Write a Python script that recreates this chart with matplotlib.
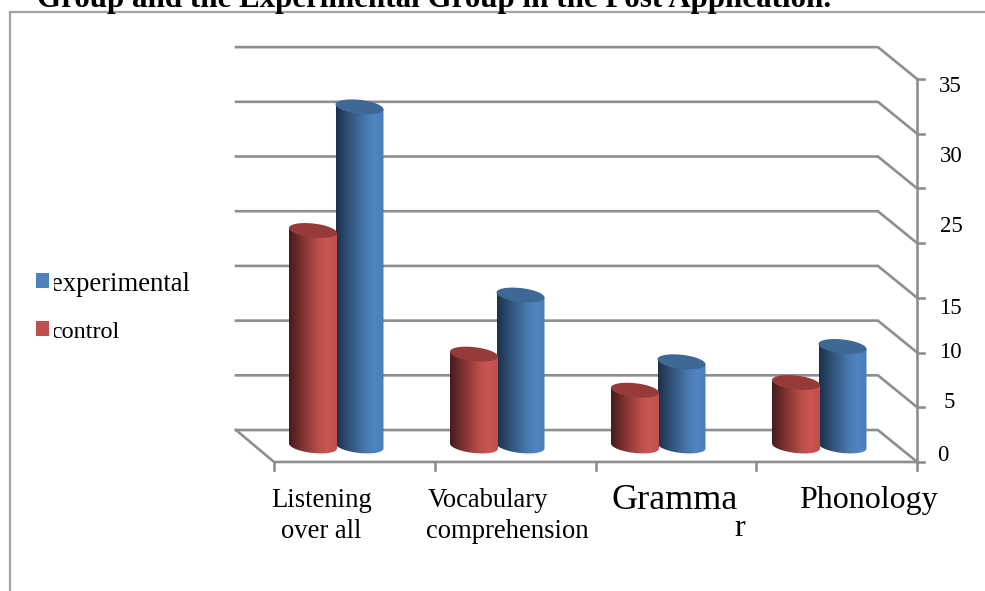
import numpy as np
import matplotlib
matplotlib.use("Agg")
import matplotlib.pyplot as plt
from matplotlib.patches import Polygon, Rectangle
from matplotlib.transforms import Affine2D
from matplotlib.colors import LinearSegmentedColormap

W, H = 985, 591
title = "Group and the Experimental Group in the Post Application."
categories = ["Listening\nover all", "Vocabulary\ncomprehension", "Gramma\nr", "Phonology"]
control = [19.7, 8.4, 5.1, 5.8]
experimental = [31.0, 13.8, 7.7, 9.1]
grid_values = [0, 5, 10, 15, 20, 25, 30, 35]
axis_labels = ["35", "30", "25", "15", "10", "5", "0"]

plt.rcParams['font.family'] = ['Liberation Serif', 'DejaVu Serif']
fig = plt.figure(figsize=(W / 100, H / 100), dpi=100)
ax = fig.add_axes([0, 0, 1, 1])
ax.axis('off')
PXU = 10.94  # px per value
PXC = 161.0  # px per category
xlim = (-336 / PXC, (W - 336) / PXC)
ylim = (-(H - 446) / PXU, 446 / PXU)
px = Affine2D().scale(1 / W, -1 / H).translate(0, 1) + ax.transAxes

GRID = '#8e8e8e'
LW = 1.9
DY = 1.46
XB0, XB1 = -0.621, 3.366
XF0, XF1 = -0.385, 3.610

# back-wall gridlines, side wall and floor
for v in grid_values:
    ax.plot([XB0, XB1, XF1], [v + DY, v + DY, v - DY], color=GRID, lw=LW, zorder=1,
            solid_joinstyle='miter')
    ax.plot([XF1, XF1 + 0.04], [v - DY, v - DY], color=GRID, lw=LW, zorder=1)
ax.plot([XB0, XF0, XF1], [DY, -DY, -DY], color=GRID, lw=LW, zorder=1)
ax.plot([XF1, XF1], [-DY, grid_values[-1] - DY], color=GRID, lw=LW, zorder=1)
for i in range(len(categories) + 1):
    xt = XF0 + i * (XF1 - XF0) / len(categories)
    ax.plot([xt, xt], [-DY, -DY - 0.75], color=GRID, lw=LW, zorder=1)

BW = 48 / PXC
EH = 7.0 / PXU
SHEAR = -2.5 / PXU / (BW / 2)


def cmap(cols):
    return LinearSegmentedColormap.from_list('c', cols)


BLUE = cmap([(0, '#1d3049'), (0.25, '#2f5075'), (0.62, '#4878ae'), (0.8, '#4f84c3'), (1, '#4a7ebb')])
RED = cmap([(0, '#431c1b'), (0.25, '#7a302e'), (0.62, '#bb4e4b'), (0.8, '#cb5552'), (1, '#c0504d')])
grad = np.linspace(0, 1, 128)[None, :]


def cylinder(xc, v, cm, topcol, z):
    t = np.linspace(np.pi, 2 * np.pi, 50)
    xs = xc + BW / 2 * np.cos(t)
    lower = EH * np.sin(t) + SHEAR * (xs - xc)
    body = list(zip(xs, lower)) + [(xc + BW / 2, v + SHEAR * BW / 2), (xc - BW / 2, v - SHEAR * BW / 2)]
    im = ax.imshow(grad, extent=(xc - BW / 2, xc + BW / 2, -2, v + 2), aspect='auto', cmap=cm, zorder=z)
    im.set_clip_path(Polygon(body, closed=True, transform=ax.transData))
    a = np.linspace(0, 2 * np.pi, 100)
    ex = xc + BW / 2 * np.cos(a)
    ey = v + EH * np.sin(a) + SHEAR * (ex - xc)
    ax.add_patch(Polygon(np.c_[ex, ey], closed=True, facecolor=topcol, edgecolor='none', zorder=z + 0.1))


for i, (c, e) in enumerate(zip(control, experimental)):
    cylinder(i + 23.5 / PXC, e, BLUE, '#3e6896', 2 + i)
    cylinder(i - 23 / PXC, c, RED, '#963b39', 2.5 + i)

ax.set_xlim(*xlim)
ax.set_ylim(*ylim)

# chart frame
ax.plot([985, 10, 10], [12, 12, 591], color='#a3a3a3', lw=1.6, transform=px, zorder=1,
        solid_joinstyle='miter', clip_on=False)

# title, cut by the top of the picture
ax.text(37, 7, title, transform=px, fontsize=22.3, fontweight='bold', ha='left', va='baseline',
        color='black', clip_on=False)

# category labels
line1 = [c.split('\n')[0] for c in categories]
line2 = [c.split('\n')[1] if '\n' in c else None for c in categories]
pos1 = [(321.5, 507, 19.2), (488, 507, 19.2), (675, 509, 26), (868, 508, 23)]
pos2 = [(321, 538, 19.2), (507.5, 538, 19.2), (740, 536, 23), None]
for lab, p in zip(line1, pos1):
    ax.text(p[0], p[1], lab, transform=px, fontsize=p[2], ha='center', color='black')
for lab, p in zip(line2, pos2):
    if lab:
        ax.text(p[0], p[1], lab, transform=px, fontsize=p[2], ha='center', color='black')

# right-hand value labels
label_pos = [(950, 92), (951, 162), (951, 232), (950, 314), (950, 358), (949, 408), (943, 461)]
for lab, (x, y) in zip(axis_labels, label_pos):
    ax.text(x, y, lab, transform=px, fontsize=16.5, ha='center', color='black')

# legend
ax.add_patch(Rectangle((36, 273), 13, 15, transform=px, facecolor='#4f81bd', edgecolor='none', zorder=3))
ax.add_patch(Rectangle((36, 321), 13, 15, transform=px, facecolor='#c0504d', edgecolor='none', zorder=3))
ax.text(51, 291, "experimental", transform=px, fontsize=19.2, color='black', zorder=3)
ax.text(51, 338, "control", transform=px, fontsize=17.4, color='black', zorder=3)
ax.add_patch(Rectangle((49.5, 270), 4, 75, transform=px, facecolor='white', edgecolor='none', zorder=4))

fig.savefig('out.png', dpi=100)
